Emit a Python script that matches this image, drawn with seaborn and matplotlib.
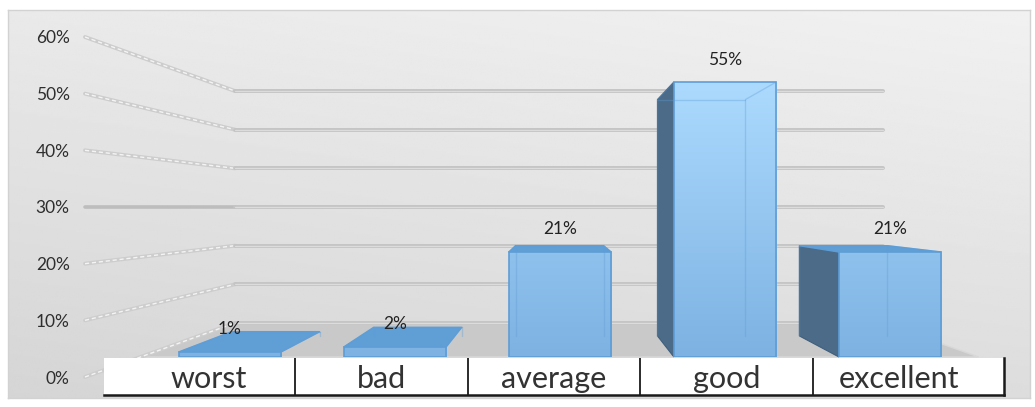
import numpy as np
import matplotlib
matplotlib.use("Agg")
import matplotlib.pyplot as plt
import seaborn as sns
from matplotlib.patches import Polygon
from matplotlib.lines import Line2D
from matplotlib.transforms import Affine2D
from matplotlib.colors import to_rgb

# ---------------- data ----------------
categories = ["worst", "bad", "average", "good", "excellent"]
values = [0.01, 0.02, 0.21, 0.55, 0.21]
value_labels = ["1%", "2%", "21%", "55%", "21%"]
y_ticks = [0.0, 0.1, 0.2, 0.3, 0.4, 0.5, 0.6]
y_tick_labels = ["0%", "10%", "20%", "30%", "40%", "50%", "60%"]

# ---------------- layout / style ----------------
W, H, DPI = 1035, 407, 100
sns.set_theme(style="white")
plt.rcParams["font.family"] = ["Lato", "DejaVu Sans"]

VP = np.array([557.0, 207.0])   # vanishing point (pixels, top-left origin)
K_WALL = 0.682                 # depth of back wall
K_BAR = 0.882                  # depth of bar front plane
K_DEPTH = 0.86                 # bar depth (relative)
AX1_BOX = (85, 37, 1035, 377)  # l, t, r, b in pixels (front plane of value axis)

FRONT_BOTTOM = "#7db2e2"
FRONT_TOP = "#acdafe"
EDGE = "#5e9dd6"
SIDE = "#4b6b88"
TOP = "#609ed6"

fig = plt.figure(figsize=(W / DPI, H / DPI), dpi=DPI)
fig.patch.set_facecolor("white")
PIX = Affine2D().scale(1, -1).translate(0, H)


def rect(l, t, r, b):
    return [l / W, 1 - b / H, (r - l) / W, (b - t) / H]


def persp(p, k):
    p = np.asarray(p, float)
    return VP + k * (p - VP)


def to_pix(ax, x, y):
    dx, dy = ax.transData.transform((x, y))
    return np.array([dx, H - dy])


# ---------------- background ----------------
bg = fig.add_axes(rect(8, 10, 1030, 398))
yy, xx = np.mgrid[0:1:200j, 0:1:400j]
grad = 0.945 - 0.08 * yy - 0.03 * (1 - xx)
bg.imshow(grad, cmap="gray", vmin=0, vmax=1, aspect="auto", extent=(0, 1, 0, 1))
bg.set_xticks([]); bg.set_yticks([])
for s in bg.spines.values():
    s.set_color("#d2d2d2"); s.set_linewidth(1)

# ---------------- value axis, walls, floor ----------------
l, t, r, b = AX1_BOX
ax1 = fig.add_axes(rect(l, t, r, b))
ax1.patch.set_alpha(0)
ax1.set_xlim(0, 1)
ax1.set_ylim(y_ticks[0], y_ticks[-1])
ax1.set_yticks(y_ticks)
ax1.set_yticklabels(y_tick_labels, fontsize=12.5, color="#2e2e2e")
ax1.set_xticks([])
ax1.tick_params(axis="y", length=0, pad=11)
for s in ax1.spines.values():
    s.set_visible(False)

# floor
f0l = to_pix(ax1, 0, y_ticks[0]); f0r = to_pix(ax1, 1, y_ticks[0])
floor = [persp(f0l, K_WALL), persp(f0r, K_WALL), persp(f0r, K_BAR), persp(f0l, K_BAR)]
ax1.add_patch(Polygon(floor, closed=True, transform=PIX, facecolor="#c9c9c9",
                      edgecolor="#d8d8d8", lw=1, clip_on=False, zorder=1))

for v in y_ticks:
    fl = to_pix(ax1, 0, v); fr = to_pix(ax1, 1, v)
    bl = persp(fl, K_WALL); br = persp(fr, K_WALL)
    flat = abs(fl[1] - bl[1]) < 2
    if flat:
        ax1.add_line(Line2D([fl[0], bl[0]], [fl[1], bl[1]], transform=PIX,
                            color="#bdbdbd", lw=2.6, clip_on=False, zorder=2))
    else:
        ax1.add_line(Line2D([fl[0], bl[0]], [fl[1], bl[1]], transform=PIX,
                            color="#cdcdcd", lw=2.8, clip_on=False, zorder=2))
        ax1.add_line(Line2D([fl[0], bl[0]], [fl[1], bl[1]], transform=PIX,
                            color="#f4f4f4", lw=1.0, ls=(0, (3, 2)), clip_on=False, zorder=2))
    ax1.add_line(Line2D([bl[0], br[0]], [bl[1], br[1]], transform=PIX,
                        color="#c4c4c4", lw=2.8, clip_on=False, zorder=2))
    ax1.add_line(Line2D([bl[0], br[0]], [bl[1], br[1]], transform=PIX,
                        color="#dcdcdc", lw=0.9, clip_on=False, zorder=2))

# ---------------- bars ----------------
bar_top = VP[1] + K_BAR * (t - VP[1])
bar_bottom = VP[1] + K_BAR * (b - VP[1])
ax2 = fig.add_axes(rect(147.5, bar_top, 972.5, bar_bottom))
ax2.patch.set_alpha(0)
sns.barplot(x=categories, y=values, ax=ax2, color=FRONT_BOTTOM, width=0.62,
            saturation=1, edgecolor=EDGE, linewidth=1.2)
ax2.set_xlim(-0.5, len(categories) - 0.5)
ax2.set_ylim(y_ticks[0], y_ticks[-1])
ax2.axis("off")

c_bot = np.array(to_rgb(FRONT_BOTTOM)); c_top = np.array(to_rgb(FRONT_TOP))
vmax = max(values)
for i, patch in enumerate(ax2.patches):
    x0 = patch.get_x(); x1 = x0 + patch.get_width(); h = patch.get_height()
    FLT = to_pix(ax2, x0, h); FRT = to_pix(ax2, x1, h)
    FLB = to_pix(ax2, x0, 0); FRB = to_pix(ax2, x1, 0)
    BLT, BRT, BLB, BRB = (persp(p, K_DEPTH) for p in (FLT, FRT, FLB, FRB))
    if FLT[0] > VP[0]:
        ax2.add_patch(Polygon([FLT, FLB, BLB, BLT], transform=PIX, facecolor=SIDE,
                              edgecolor="#3f5f7c", lw=0.8, clip_on=False, zorder=1))
    if FRT[0] < VP[0] and h > 0.05:
        ax2.add_patch(Polygon([FRT, FRB, BRB, BRT], transform=PIX, facecolor=SIDE,
                              edgecolor="#3f5f7c", lw=0.8, clip_on=False, zorder=1))
    if FLT[1] > VP[1]:
        ax2.add_patch(Polygon([FLT, FRT, BRT, BLT], transform=PIX, facecolor=TOP,
                              edgecolor=EDGE, lw=1, clip_on=False, zorder=1))
    # gradient front face
    n = 60
    fr = np.linspace(0, h / vmax, n)[:, None]
    arr = (c_bot[None, :] + (c_top - c_bot)[None, :] * fr)[:, None, :]
    im = ax2.imshow(arr, extent=(x0, x1, 0, h), origin="lower", aspect="auto",
                    zorder=2, interpolation="bilinear")
    im.set_clip_path(patch)
    patch.set_facecolor("none"); patch.set_zorder(3)
    # faint back edges seen through the front face
    for a, c in ((BLT, BRT), (BRT, BRB), (BLT, BLB), (FRT, BRT), (FLT, BLT)):
        ax2.add_line(Line2D([a[0], c[0]], [a[1], c[1]], transform=PIX, color=EDGE,
                            lw=1, alpha=0.35, clip_on=False, zorder=3))
    # value label
    mid = persp(to_pix(ax2, (x0 + x1) / 2, h), (1 + K_DEPTH) / 2)
    xc = to_pix(ax2, (x0 + x1) / 2, h)[0]
    yl = mid[1] - (12 + 35 * values[i])
    ax2.text(xc, yl, value_labels[i], transform=PIX, ha="center", va="center",
             fontsize=12.5, color="#222222", clip_on=False, zorder=5)

ax2.set_xlim(-0.5, len(categories) - 0.5)
ax2.set_ylim(y_ticks[0], y_ticks[-1])

# ---------------- category table ----------------
ax3 = fig.add_axes(rect(104, 358, 1004, 395))
ax3.set_facecolor("white")
ax3.set_xlim(-0.61, len(categories) - 1 + 0.61)
ax3.set_ylim(0, 1)
ax3.set_xticks([]); ax3.set_yticks([])
for name, s in ax3.spines.items():
    if name in ("bottom", "right"):
        s.set_color("#1a1a1a"); s.set_linewidth(1.8)
    else:
        s.set_visible(False)
for i in range(len(categories) - 1):
    ax3.axvline(i + 0.5, color="#1a1a1a", lw=1.3)
for i, c in enumerate(categories):
    ax3.text(i, 0.42, c, ha="center", va="center", fontsize=22, color="#333333")

fig.savefig("out.png", dpi=DPI)
